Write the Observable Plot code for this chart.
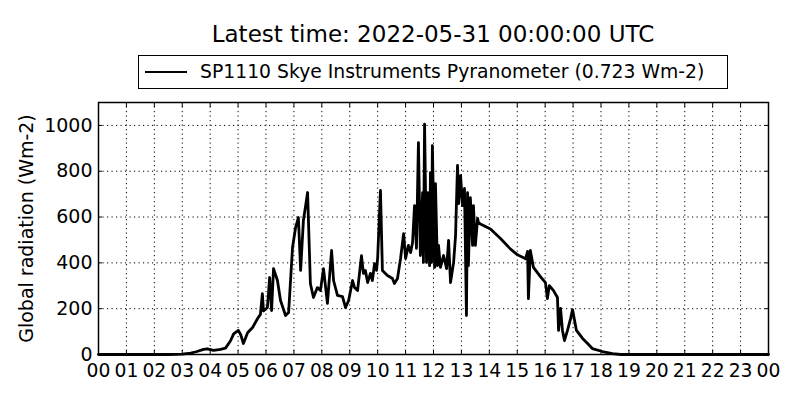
<!DOCTYPE html>
<html>
<head>
<meta charset="utf-8">
<script src="https://cdn.jsdelivr.net/npm/d3@7"></script>
<script src="https://cdn.jsdelivr.net/npm/@observablehq/plot@0.6"></script>
<style>
  html, body { margin: 0; padding: 0; background: #fff; }
  body { width: 800px; height: 400px; overflow: hidden; font-family: "DejaVu Sans", sans-serif; color: #000; }
  #title { position: relative; height: 48px; }
  #title span { position: absolute; left: 433px; transform: translateX(-50%); top: 21px; font-size: 23px; white-space: nowrap; line-height: 26px; }
  #legend { position: relative; height: 47px; }
  #legend .box { position: absolute; left: 138px; top: 7px; width: 590px; height: 34px; border: 1px solid #000; box-sizing: border-box; }
  #legend .swatch { position: absolute; left: 6px; top: 15px; width: 42px; height: 0; border-top: 2.8px solid #000; }
  #legend .label { position: absolute; left: 61px; top: 5px; font-size: 18.8px; line-height: 22px; white-space: nowrap; }
  #chart svg { display: block; }
</style>
</head>
<body>
<div id="title"><span></span></div>
<div id="legend"><div class="box"><div class="swatch"></div><div class="label"></div></div></div>
<div id="chart"></div>
<script>
const titleText = "Latest time: 2022-05-31 00:00:00 UTC";
const seriesName = "SP1110 Skye Instruments Pyranometer (0.723 Wm-2)";
const yLabel = "Global radiation (Wm-2)";

// hours of day (UTC)
const hours = [
  0, 2.5, 3.0, 3.3, 3.5, 3.76, 3.9, 4.12, 4.37, 4.55, 4.73, 4.84, 5.01, 5.1, 5.19, 5.34, 5.52, 5.7, 5.8, 5.87,
  5.91, 6.05, 6.13, 6.2, 6.27, 6.41, 6.52, 6.7, 6.81, 6.95, 7.06, 7.16, 7.24, 7.34, 7.49, 7.59, 7.7, 7.84, 7.95, 8.06,
  8.2, 8.35, 8.42, 8.56, 8.74, 8.85, 8.96, 9.1, 9.17, 9.28, 9.42, 9.49, 9.56, 9.64, 9.74, 9.81, 9.89, 9.96, 10.0, 10.1,
  10.17, 10.35, 10.53, 10.6, 10.71, 10.82, 10.93, 11.0, 11.1, 11.18, 11.25, 11.32, 11.39, 11.46, 11.53, 11.61, 11.64, 11.68, 11.75, 11.79,
  11.86, 11.89, 11.93, 11.96, 12.04, 12.07, 12.14, 12.18, 12.25, 12.36, 12.47, 12.54, 12.61, 12.72, 12.79, 12.86, 12.9, 12.97, 13.04, 13.11,
  13.18, 13.22, 13.25, 13.32, 13.4, 13.43, 13.5, 13.58, 13.61, 13.68, 14.04, 14.4, 14.76, 15.01, 15.3, 15.37, 15.4, 15.47, 15.58, 15.83,
  16.01, 16.08, 16.15, 16.3, 16.44, 16.48, 16.55, 16.62, 16.69, 16.8, 16.91, 16.98, 17.12, 17.34, 17.52, 17.69, 18.05, 18.41, 18.7, 24
];
// global radiation, W m-2
const radiation = [
  0, 0, 2, 6, 12, 22, 25, 18, 22, 28, 60, 90, 105, 85, 48, 95, 118, 157, 175, 266,
  190, 205, 336, 192, 375, 323, 236, 170, 183, 467, 554, 598, 367, 585, 707, 310, 249, 292, 279, 375,
  223, 454, 323, 258, 253, 205, 236, 323, 292, 279, 432, 354, 367, 314, 354, 323, 397, 367, 423, 716,
  367, 345, 332, 310, 332, 419, 528, 419, 476, 445, 489, 650, 463, 925, 432, 707, 402, 1006, 402, 707,
  388, 794, 402, 912, 380, 746, 388, 476, 380, 432, 375, 498, 314, 402, 519, 825, 659, 781, 650, 725,
  170, 707, 388, 685, 476, 650, 476, 594, 576, 570, 548, 506, 460, 435, 418, 450, 244, 454, 380, 340,
  314, 244, 301, 279, 249, 105, 201, 105, 61, 105, 157, 196, 105, 70, 48, 26, 13, 4, 0, 0
];

const xTicks = d3.range(0, 25);
const yTicks = [0, 200, 400, 600, 800, 1000];

document.querySelector("#title span").textContent = titleText;
document.querySelector("#legend .label").textContent = seriesName;

const data = hours.map((h, i) => ({hour: h, value: radiation[i]}));
const fmtHour = d => String(d % 24).padStart(2, "0");

const chart = Plot.plot({
  width: 800,
  height: 305,
  marginTop: 7,
  marginBottom: 46,
  marginLeft: 98,
  marginRight: 32,
  style: {fontFamily: "DejaVu Sans, sans-serif", fontSize: "18.75px", color: "#000", background: "#fff"},
  x: {domain: [0, 24]},
  y: {domain: [0, 1100]},
  marks: [
    Plot.gridX(xTicks, {stroke: "#000", strokeOpacity: 1, strokeWidth: 1, strokeDasharray: "1.2,3.3"}),
    Plot.gridY(yTicks, {stroke: "#000", strokeOpacity: 1, strokeWidth: 1, strokeDasharray: "1.2,3.3"}),
    Plot.axisX({ticks: xTicks, tickFormat: fmtHour, tickSize: -4, tickPadding: 13, label: null, fill: "#000", stroke: "#000", fontSize: "18.75px"}),
    Plot.axisX({ticks: xTicks, anchor: "top", tickSize: -4, tickFormat: () => "", label: null, stroke: "#000"}),
    Plot.axisY({ticks: yTicks, tickFormat: d => String(d), tickSize: -4, tickPadding: 10, label: yLabel, labelAnchor: "center", labelArrow: "none", labelOffset: 79, fill: "#000", stroke: "#000", fontSize: "19px"}),
    Plot.axisY({ticks: yTicks, anchor: "right", tickSize: -4, tickFormat: () => "", label: null, stroke: "#000"}),
    Plot.line(data, {x: "hour", y: "value", stroke: "#000", strokeWidth: 2.8, strokeLinejoin: "round"}),
    Plot.frame({stroke: "#000", strokeWidth: 1.5})
  ]
});
document.getElementById("chart").appendChild(chart);
</script>
</body>
</html>
